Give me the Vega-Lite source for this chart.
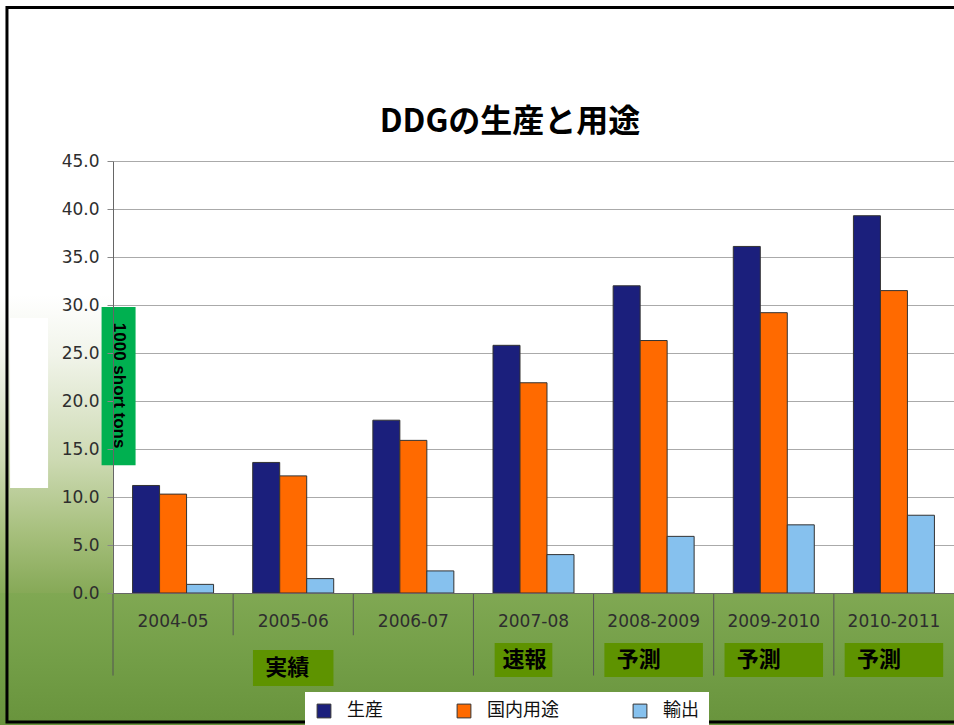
{
  "$schema": "https://vega.github.io/schema/vega-lite/v6.json",
  "width": 841,
  "height": 432,
  "autosize": "none",
  "padding": {"left": 113, "top": 161, "right": 0, "bottom": 132},
  "background": "white",
  "config": {"view": {"stroke": null}},
  "datasets": {
    "ddg": [
      {"cat": "2004-05", "series": "生産", "value": 11.2},
      {"cat": "2004-05", "series": "国内用途", "value": 10.3},
      {"cat": "2004-05", "series": "輸出", "value": 0.9},
      {"cat": "2005-06", "series": "生産", "value": 13.6},
      {"cat": "2005-06", "series": "国内用途", "value": 12.2},
      {"cat": "2005-06", "series": "輸出", "value": 1.5},
      {"cat": "2006-07", "series": "生産", "value": 18.0},
      {"cat": "2006-07", "series": "国内用途", "value": 15.9},
      {"cat": "2006-07", "series": "輸出", "value": 2.3},
      {"cat": "2007-08", "series": "生産", "value": 25.8},
      {"cat": "2007-08", "series": "国内用途", "value": 21.9},
      {"cat": "2007-08", "series": "輸出", "value": 4.0},
      {"cat": "2008-2009", "series": "生産", "value": 32.0},
      {"cat": "2008-2009", "series": "国内用途", "value": 26.3},
      {"cat": "2008-2009", "series": "輸出", "value": 5.9},
      {"cat": "2009-2010", "series": "生産", "value": 36.1},
      {"cat": "2009-2010", "series": "国内用途", "value": 29.2},
      {"cat": "2009-2010", "series": "輸出", "value": 7.1},
      {"cat": "2010-2011", "series": "生産", "value": 39.3},
      {"cat": "2010-2011", "series": "国内用途", "value": 31.5},
      {"cat": "2010-2011", "series": "輸出", "value": 8.1}
    ],
    "notes": [
      {"cat": "2005-06", "note": "実績"},
      {"cat": "2007-08", "note": "速報"},
      {"cat": "2008-2009", "note": "予測"},
      {"cat": "2009-2010", "note": "予測"},
      {"cat": "2010-2011", "note": "予測"}
    ],
    "heading": [
      {"cat": "2007-08", "title": "DDGの生産と用途"}
    ]
  },
  "resolve": {"axis": {"y": "independent"}},
  "layer": [
    {
      "data": {"name": "ddg"},
      "mark": {"type": "bar", "stroke": "#333333", "strokeWidth": 1},
      "encoding": {
        "x": {"field": "cat", "type": "nominal", "title": null,
          "scale": {"domain": ["2004-05", "2005-06", "2006-07", "2007-08", "2008-2009", "2009-2010", "2010-2011"], "paddingInner": 0, "paddingOuter": 0},
          "axis": {"ticks": false, "labelAngle": 0, "labelAlign": "center", "labelFont": "DejaVu Sans", "labelFontSize": 17, "labelColor": "#2e2e2e", "labelPadding": 20, "domainColor": "#666666", "grid": false, "zindex": 1}},
        "xOffset": {"field": "series", "type": "nominal", "sort": ["生産", "国内用途", "輸出"], "scale": {"paddingInner": 0, "paddingOuter": 0.725}},
        "y": {"field": "value", "type": "quantitative", "scale": {"domain": [0, 45], "nice": false},
          "axis": {"title": null, "values": [0, 5, 10, 15, 20, 25, 30, 35, 40, 45], "labels": false, "ticks": false, "domain": false, "grid": true, "gridColor": "#aaaaaa", "gridWidth": 1, "zindex": 0}},
        "color": {"field": "series", "type": "nominal", "sort": ["生産", "国内用途", "輸出"],
          "scale": {"domain": ["生産", "国内用途", "輸出"], "range": ["#1b1f7c", "#ff6a00", "#86c1ee"]},
          "legend": {"title": null, "orient": "none", "legendX": 192, "legendY": 531, "direction": "horizontal", "fillColor": "white", "padding": 10, "symbolType": "square", "symbolSize": 190, "symbolStrokeColor": "#333333", "symbolStrokeWidth": 1, "labelFont": "Noto Sans CJK JP", "labelFontSize": 18, "labelColor": "#111111", "columnPadding": 72, "labelOffset": 14}}
      }
    },
    {
      "data": {"name": "heading"},
      "mark": {"type": "bar", "width": 960, "xOffset": 304, "fill": {"gradient": "linear", "x1": 0, "y1": 0, "x2": 0, "y2": 1, "stops": [{"offset": 0, "color": "#80a853"}, {"offset": 0.5, "color": "#739e47"}, {"offset": 1, "color": "#68933c"}]}},
      "encoding": {
        "x": {"datum": "2004-05", "type": "nominal", "title": null},
        "y": {"datum": 0, "scale": {"domain": [0, 45], "nice": false}, "axis": null},
        "y2": {"datum": -14}
      }
    },
    {
      "data": {"name": "heading"},
      "mark": {"type": "bar", "width": 113, "xOffset": -116.6, "fill": {"gradient": "linear", "x1": 0, "y1": 0, "x2": 0, "y2": 1, "stops": [{"offset": 0, "color": "#ffffff"}, {"offset": 0.2, "color": "#f1f4ea"}, {"offset": 0.55, "color": "#cddab3"}, {"offset": 0.8, "color": "#a6bf7c"}, {"offset": 1, "color": "#86a957"}]}},
      "encoding": {
        "x": {"datum": "2004-05", "type": "nominal", "title": null},
        "y": {"datum": 31, "scale": {"domain": [0, 45], "nice": false}, "axis": null},
        "y2": {"datum": 0}
      }
    },
    {
      "data": {"name": "heading"},
      "mark": {"type": "bar", "width": 38, "xOffset": -144, "fill": "#ffffff"},
      "encoding": {
        "x": {"datum": "2004-05", "type": "nominal", "title": null},
        "y": {"datum": 28.65, "scale": {"domain": [0, 45], "nice": false}, "axis": null},
        "y2": {"datum": 10.94}
      }
    },
    {
      "data": {"name": "ddg"},
      "transform": [{"filter": "datum.series == '生産' && datum.cat != '2005-06' && datum.cat != '2006-07'"}],
      "mark": {"type": "rule", "color": "#555555", "strokeWidth": 1},
      "encoding": {
        "x": {"field": "cat", "type": "nominal", "bandPosition": 0, "title": null},
        "y": {"datum": 0, "scale": {"domain": [0, 45], "nice": false}, "axis": null},
        "y2": {"datum": -8.6}
      }
    },
    {
      "data": {"name": "ddg"},
      "transform": [{"filter": "datum.series == '生産' && (datum.cat == '2005-06' || datum.cat == '2006-07')"}],
      "mark": {"type": "rule", "color": "#555555", "strokeWidth": 1},
      "encoding": {
        "x": {"field": "cat", "type": "nominal", "bandPosition": 0, "title": null},
        "y": {"datum": 0, "scale": {"domain": [0, 45], "nice": false}, "axis": null},
        "y2": {"datum": -4.4}
      }
    },
    {
      "data": {"name": "notes"},
      "transform": [{"filter": "datum.note == '実績'"}],
      "mark": {"type": "bar", "color": "#5e9300", "width": {"band": 0.67}},
      "encoding": {
        "x": {"field": "cat", "type": "nominal", "title": null},
        "y": {"datum": -5.94, "scale": {"domain": [0, 45], "nice": false}, "axis": null},
        "y2": {"datum": -9.69}
      }
    },
    {
      "data": {"name": "notes"},
      "transform": [{"filter": "datum.note == '速報'"}],
      "mark": {"type": "bar", "color": "#5e9300", "width": {"band": 0.48}, "xOffset": -10},
      "encoding": {
        "x": {"field": "cat", "type": "nominal", "title": null},
        "y": {"datum": -5.2, "scale": {"domain": [0, 45], "nice": false}, "axis": null},
        "y2": {"datum": -8.75}
      }
    },
    {
      "data": {"name": "notes"},
      "transform": [{"filter": "datum.note == '予測'"}],
      "mark": {"type": "bar", "color": "#5e9300", "width": {"band": 0.82}},
      "encoding": {
        "x": {"field": "cat", "type": "nominal", "title": null},
        "y": {"datum": -5.2, "scale": {"domain": [0, 45], "nice": false}, "axis": null},
        "y2": {"datum": -8.75}
      }
    },
    {
      "data": {"name": "notes"},
      "transform": [{"filter": "datum.note == '実績'"}],
      "mark": {"type": "text", "font": "Noto Sans CJK JP", "fontSize": 22, "fontWeight": "bold", "color": "#000000", "baseline": "middle", "align": "center", "xOffset": -6},
      "encoding": {
        "x": {"field": "cat", "type": "nominal", "title": null},
        "y": {"datum": -7.8, "scale": {"domain": [0, 45], "nice": false}, "axis": null},
        "text": {"field": "note"}
      }
    },
    {
      "data": {"name": "notes"},
      "transform": [{"filter": "datum.note == '速報'"}],
      "mark": {"type": "text", "font": "Noto Sans CJK JP", "fontSize": 22, "fontWeight": "bold", "color": "#000000", "baseline": "middle", "align": "center", "xOffset": -9},
      "encoding": {
        "x": {"field": "cat", "type": "nominal", "title": null},
        "y": {"datum": -7.0, "scale": {"domain": [0, 45], "nice": false}, "axis": null},
        "text": {"field": "note"}
      }
    },
    {
      "data": {"name": "notes"},
      "transform": [{"filter": "datum.note == '予測'"}],
      "mark": {"type": "text", "font": "Noto Sans CJK JP", "fontSize": 22, "fontWeight": "bold", "color": "#000000", "baseline": "middle", "align": "center", "xOffset": -15},
      "encoding": {
        "x": {"field": "cat", "type": "nominal", "title": null},
        "y": {"datum": -7.0, "scale": {"domain": [0, 45], "nice": false}, "axis": null},
        "text": {"field": "note"}
      }
    },
    {
      "data": {"name": "heading"},
      "mark": {"type": "bar", "color": "#00b050", "width": 34, "xOffset": -54.5},
      "encoding": {
        "x": {"datum": "2004-05", "type": "nominal", "title": null},
        "y": {"datum": 29.8, "scale": {"domain": [0, 45], "nice": false}, "axis": null},
        "y2": {"datum": 13.3}
      }
    },
    {
      "data": {"name": "heading"},
      "mark": {"type": "text", "text": "1000 short tons", "font": "Liberation Sans", "fontSize": 17, "fontWeight": "bold", "color": "#000000", "angle": 90, "baseline": "middle", "align": "center", "xOffset": -54.5},
      "encoding": {
        "x": {"datum": "2004-05", "type": "nominal", "title": null},
        "y": {"datum": 21.6, "type": "quantitative", "scale": {"domain": [0, 45], "nice": false},
          "axis": {"orient": "left", "title": null, "values": [0, 5, 10, 15, 20, 25, 30, 35, 40, 45], "format": ".1f", "grid": false, "labelFont": "DejaVu Sans", "labelFontSize": 17, "labelColor": "#2e2e2e", "labelPadding": 8, "tickSize": 6, "tickColor": "#888888", "domainColor": "#666666", "zindex": 1}}
      }
    },
    {
      "data": {"name": "heading"},
      "mark": {"type": "text", "font": "Noto Sans CJK JP", "fontSize": 32, "fontWeight": "bold", "color": "#000000", "baseline": "middle", "align": "center", "xOffset": -23.5},
      "encoding": {
        "x": {"field": "cat", "type": "nominal", "title": null},
        "y": {"datum": 49.06, "scale": {"domain": [0, 45], "nice": false}, "axis": null},
        "text": {"field": "title"}
      }
    },
    {
      "data": {"name": "heading"},
      "mark": {"type": "bar", "width": 953, "xOffset": 310.4, "fill": null, "fillOpacity": 0, "stroke": "#000000", "strokeWidth": 3},
      "encoding": {
        "x": {"datum": "2004-05", "type": "nominal", "title": null},
        "y": {"datum": 61.0, "scale": {"domain": [0, 45], "nice": false}, "axis": null},
        "y2": {"datum": -13.44}
      }
    }
  ]
}
